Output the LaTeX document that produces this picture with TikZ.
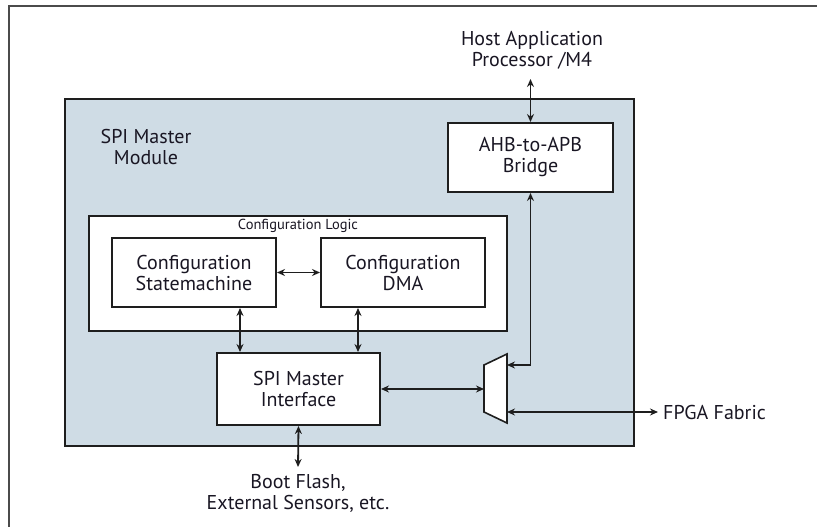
\documentclass[tikz,border=0pt]{standalone}
\usepackage{fontspec}
\setmainfont{PT Sans}
\usetikzlibrary{arrows.meta}
\definecolor{modfill}{RGB}{207,220,229}
\definecolor{edge}{RGB}{30,30,30}
\definecolor{ink}{RGB}{25,22,35}
\begin{document}
\begin{tikzpicture}[x=1pt,y=-1pt,
  box/.style={draw=edge, line width=2pt, fill=white, inner sep=0pt,
    align=center, text=ink, font=\fontsize{20}{21}\selectfont},
  lbl/.style={align=center, text=ink, inner sep=0pt,
    font=\fontsize{20}{21}\selectfont},
  link/.style={draw=edge, line width=1.8pt,
    {Stealth[length=8pt,width=7pt]}-{Stealth[length=8pt,width=7pt]}}]
\useasboundingbox (0,0) rectangle (817,527);
% outer frame, only its top and left edges fall on the page
\begin{scope}
  \clip (0,0) rectangle (817,527);
  \draw[draw=edge!80, line width=2.2pt] (9,540) -- (9,6) -- (830,6);
\end{scope}
% module body
\node[draw=edge, line width=2.2pt, fill=modfill, minimum width=569pt,
  minimum height=347pt, inner sep=0pt] (module) at (349.5,272.5) {};
\node[lbl] (modname) at (146,147) {SPI Master\\Module};
% blocks
\node[box, minimum width=165pt, minimum height=69pt] (ahb) at (530.5,157.5) {AHB-to-APB\\Bridge};
\node[box, minimum width=418pt, minimum height=115pt] (cfg) at (298,273.5) {};
\node[lbl, font=\fontsize{14.5}{16}\selectfont] (cfgname) at (298,226) {Configuration Logic};
\node[box, minimum width=164pt, minimum height=69pt] (sm) at (194,272.5) {Configuration\\Statemachine};
\node[box, minimum width=164pt, minimum height=69pt] (dma) at (403,272.5) {Configuration\\DMA};
\node[box, minimum width=163pt, minimum height=72pt] (spi) at (298.5,389) {SPI Master\\Interface};
% multiplexer
\coordinate (muxtl) at (484,365);
\coordinate (muxtr) at (507,354);
\coordinate (muxbr) at (507,423);
\coordinate (muxbl) at (484,412);
\draw[draw=edge, line width=1.6pt, fill=white] (muxtl) -- (muxtr) -- (muxbr) -- (muxbl) -- cycle;
\coordinate (muxin) at (484,389);
\coordinate (muxup) at (507,365);
\coordinate (muxout) at (507,412);
% external labels
\node[lbl] (host) at (532,50) {Host Application\\Processor /M4};
\coordinate (hostpin) at (530.5,79);
\node[lbl, anchor=west] (fpga) at (663,412) {FPGA Fabric};
\node[lbl] (boot) at (298,493) {Boot Flash,\\External Sensors, etc.};
\coordinate (bootpin) at (298,467);
% connectors
\draw[link] (hostpin) -- (ahb.north);
\draw[link] (sm.east) -- (dma.west);
\draw[link] ([xshift=24pt]spi.north west) -- ([xshift=24pt]spi.north west |- sm.south);
\draw[link] ([xshift=-23pt]spi.north east) -- ([xshift=-23pt]spi.north east |- dma.south);
\draw[link] (spi.east) -- (muxin);
\draw[link] (ahb.south) |- (muxup);
\draw[link] (muxout) -- ([xshift=-5pt]fpga.west);
\draw[link] (spi.south) -- (bootpin);
\end{tikzpicture}
\end{document}
